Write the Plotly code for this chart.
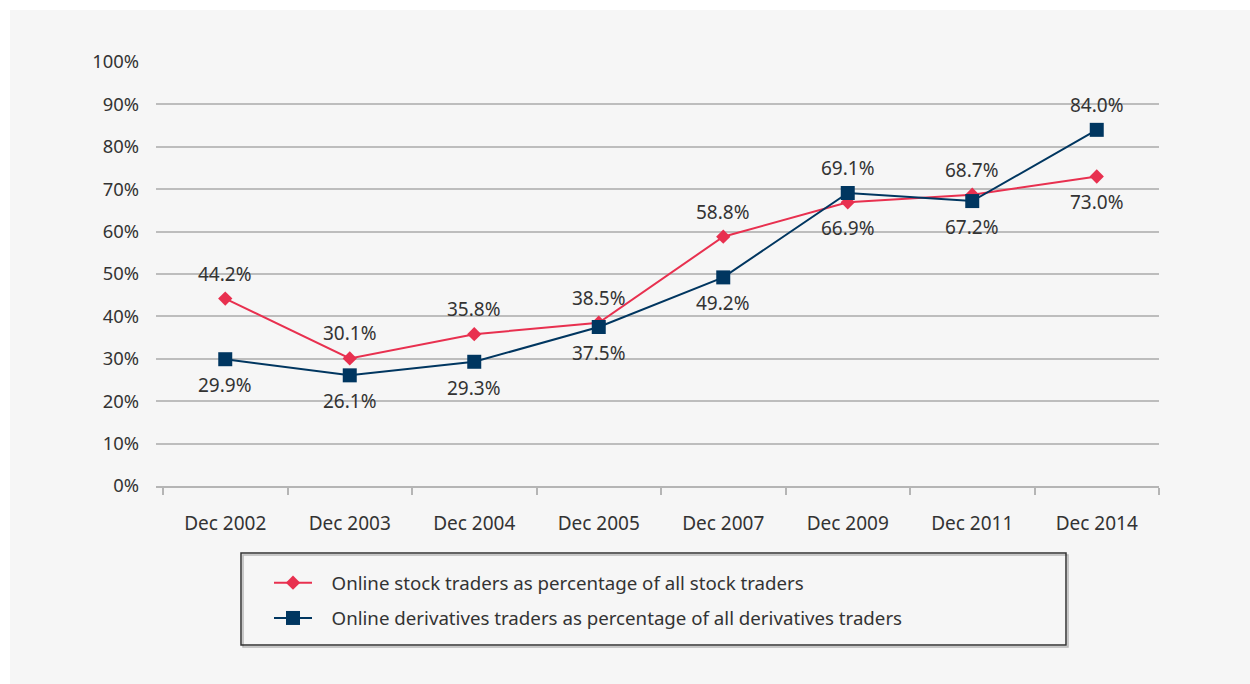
import plotly.graph_objects as go

categories = ["Dec 2002", "Dec 2003", "Dec 2004", "Dec 2005", "Dec 2007", "Dec 2009", "Dec 2011", "Dec 2014"]
stock_values = [44.2, 30.1, 35.8, 38.5, 58.8, 66.9, 68.7, 73.0]
deriv_values = [29.9, 26.1, 29.3, 37.5, 49.2, 69.1, 67.2, 84.0]
stock_above = [True, True, True, True, True, False, True, False]
deriv_above = [False, False, False, False, False, True, False, True]
stock_name = "Online stock traders as percentage of all stock traders"
deriv_name = "Online derivatives traders as percentage of all derivatives traders"

W, H = 1250, 684
L, R, T, B = 156, 1159, 62, 486
pw, ph = R - L, B - T

def px_x(p):
    return (p - L) / pw

def px_y(p):
    return (B - p) / ph

FONT = "Noto Sans"
TXT = "#333333"
RED = "#e8304f"
NAVY = "#003660"
PAD = "\u00a0\u00a0\u00a0"

fig = go.Figure()
fig.add_trace(go.Scatter(
    x=categories, y=stock_values, name=PAD + stock_name, mode="lines+markers",
    line=dict(color=RED, width=2),
    marker=dict(symbol="diamond", size=11, color=RED),
    legendgroup="a", cliponaxis=False,
))
fig.add_trace(go.Scatter(
    x=categories, y=deriv_values, name=PAD + deriv_name, mode="lines+markers",
    line=dict(color=NAVY, width=2),
    marker=dict(symbol="square", size=14, color=NAVY),
    legendgroup="b", cliponaxis=False,
))

annotations = []
for vals, above in ((stock_values, stock_above), (deriv_values, deriv_above)):
    for c, v, a in zip(categories, vals, above):
        annotations.append(dict(
            x=c, y=v, xref="x", yref="y", text=f"{v:.1f}%", showarrow=False,
            yshift=25 if a else -26, xanchor="center", yanchor="middle",
            font=dict(family=FONT, size=19, color=TXT),
        ))

shapes = [
    dict(type="rect", xref="paper", yref="paper", layer="below",
         x0=px_x(10), x1=px_x(1260), y0=px_y(700), y1=px_y(10),
         fillcolor="#f6f6f6", line=dict(width=0)),
    dict(type="rect", xref="paper", yref="paper", layer="below",
         x0=px_x(243), x1=px_x(1068), y0=px_y(647), y1=px_y(555),
         fillcolor="rgba(0,0,0,0)", line=dict(color="#b8b8b8", width=1.5)),
    dict(type="rect", xref="paper", yref="paper", layer="below",
         x0=px_x(241), x1=px_x(1066), y0=px_y(645), y1=px_y(553),
         fillcolor="rgba(0,0,0,0)", line=dict(color="#333333", width=1.5)),
]

fig.update_layout(
    width=W, height=H,
    margin=dict(l=L, r=W - R, t=T, b=H - B),
    paper_bgcolor="white", plot_bgcolor="rgba(0,0,0,0)",
    font=dict(family=FONT, size=19, color=TXT),
    shapes=shapes, annotations=annotations,
    showlegend=True,
    legend=dict(
        x=px_x(269), y=px_y(564), xanchor="left", yanchor="top",
        bgcolor="rgba(0,0,0,0)", borderwidth=0,
        font=dict(family=FONT, size=18.7, color=TXT),
        tracegroupgap=8, itemwidth=38,
    ),
    xaxis=dict(
        type="category", range=[-0.5 - 7 / 124.5, 7.5],
        tickson="boundaries", ticks="outside", ticklen=7, tickwidth=1.5, tickcolor="#b5b5b5",
        showline=True, linecolor="#b5b5b5", linewidth=1.5,
        showgrid=False, ticklabelstandoff=19,
        tickfont=dict(family=FONT, size=19, color=TXT),
    ),
    yaxis=dict(
        range=[0, 100], dtick=10, ticksuffix="%",
        showgrid=True, gridcolor="#bdbdbd", gridwidth=1.5,
        zeroline=False, showline=False, ticks="", ticklabelstandoff=16,
        tickfont=dict(family=FONT, size=18.4, color=TXT),
    ),
)

fig.write_html("out.html", config={"displayModeBar": False},
               post_script="document.body.style.margin='0';")
